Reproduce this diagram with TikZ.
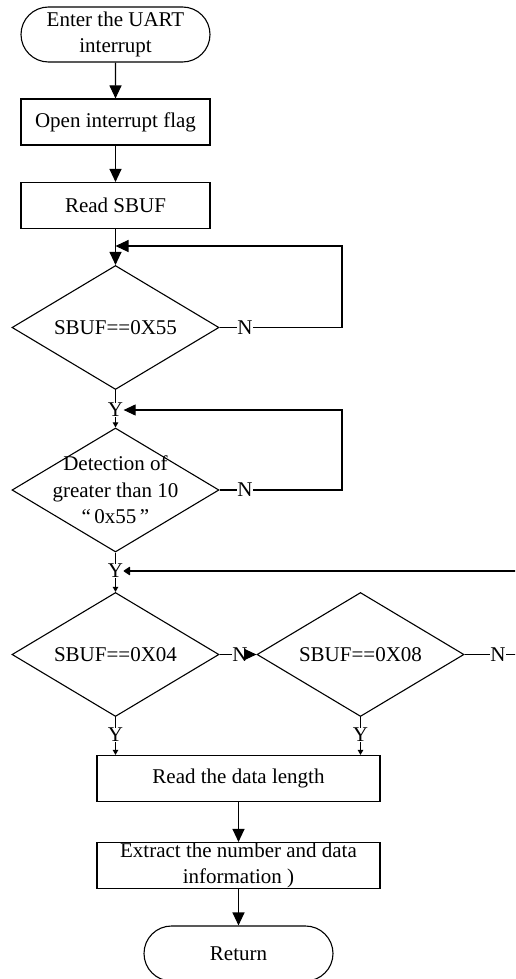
\documentclass[tikz,border=0pt]{standalone}
\usepackage{fontspec}
\setmainfont{Liberation Serif}
\usetikzlibrary{shapes.geometric,shapes.misc,arrows.meta}
\begin{document}
\begin{tikzpicture}[x=0.5pt,y=-0.5pt,line width=0.55pt,
  every node/.style={font=\fontsize{10.5}{13.3}\selectfont},
  term/.style={draw, rounded rectangle, minimum width=94.5pt, minimum height=27.5pt, inner sep=0pt, align=center},
  box/.style={draw, rectangle, minimum width=94.5pt, minimum height=23pt, inner sep=0pt, align=center},
  dia/.style={draw, diamond, minimum width=103.5pt, minimum height=62pt, inner sep=0pt},
  txt/.style={inner sep=0pt, align=center},
  lbl/.style={inner sep=0pt},
  big/.style={-{Triangle[length=6.5pt,width=6pt]}},
  mid/.style={-{Triangle[length=6pt,width=5.5pt]}},
  sml/.style={-{Triangle[length=2.6pt,width=2.8pt]}},
  tip/.style={-{Triangle[round,length=3.5pt,width=4.5pt]}}
]
\useasboundingbox (0,0) rectangle (515,979);
\clip (0,0) rectangle (515,979);

\node[term] (start) at (115.5,34.5) {Enter the UART\\interrupt};
\node[box] (b1) at (115.5,122) {Open interrupt flag};
\node[box] (b2) at (115.5,205.5) {Read SBUF};
\node[dia] (d1) at (115.5,327.5) {};
\node[txt] (t1) at (d1) {SBUF==0X55};
\node[lbl] (n1) at (245,327.5) {N};
\node[lbl] (y1) at (115.5,410) {Y};
\node[dia] (d2) at (115.5,490) {};
\node[txt] (t2) at (d2) {Detection of\\greater than 10\\“\,0x55\,”};
\node[lbl] (n2) at (245,490) {N};
\node[lbl] (y2) at (115.5,571) {Y};
\node[dia] (d3) at (115.5,654.5) {};
\node[txt] (t3) at (d3) {SBUF==0X04};
\node[dia] (d4) at (360.5,654.5) {};
\node[txt] (t4) at (d4) {SBUF==0X08};
\node[lbl] (n3) at (240,654.5) {N};
\node[lbl] (n4) at (498,654.5) {N};
\node[lbl] (y3) at (115.5,735) {Y};
\node[lbl] (y4) at (360.5,735) {Y};
\node[box, minimum width=141.5pt] (b5) at (238.5,778.5) {Read the data length};
\node[box, minimum width=141.5pt] (b6) at (238.5,865.5) {Extract the number and data\\information )};
\node[term] (ret) at (238.5,953.5) {Return};

\coordinate (m1) at (115.5,246);
\coordinate (c1) at (342,327.5);
\coordinate (c2) at (342,490);
\coordinate (c4) at (545,654.5);

\draw[big] (start) -- (b1);
\draw[big] (b1) -- (b2);
\draw[big] (b2) -- (d1);
\draw (d1.east) -- (n1.west);
\draw[big] (n1.east) -- (c1) |- (m1);
\draw (d1.south) -- (y1.north);
\draw[sml] (y1.south) -- (d2.north);
\draw (d2.east) -- (n2.west);
\draw[mid] (n2.east) -- (c2) |- (y1.east);
\draw (d2.south) -- (y2.north);
\draw[sml] (y2.south) -- (d3.north);
\draw (d3.east) -- (n3.west);
\draw[mid] (n3.east) -- (d4.west);
\draw (d4.east) -- (n4.west);
\draw[tip] (n4.east) -- (c4) |- (y2.east);
\draw (d3.south) -- (y3.north);
\draw[sml] (y3.south) -- (y3.south |- b5.north);
\draw (d4.south) -- (y4.north);
\draw[sml] (y4.south) -- (y4.south |- b5.north);
\draw[big] (b5) -- (b6);
\draw[big] (b6) -- (ret);
\end{tikzpicture}
\end{document}
